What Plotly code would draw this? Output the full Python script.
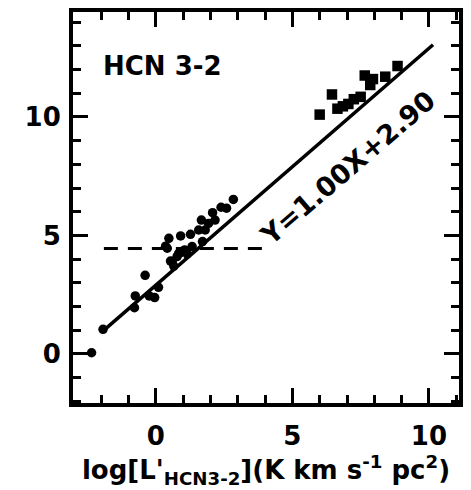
import plotly.graph_objects as go
import numpy as np

# Galactic dense cores (dots)
dots_x = [-2.35, -1.93, -0.78, -0.75, -0.39, -0.24, -0.04, 0.10, 0.36, 0.42, 0.48, 0.54, 0.60,
          0.66, 0.78, 0.84, 0.87, 0.91, 0.96, 1.06, 1.09, 1.15, 1.27, 1.33, 1.57, 1.67, 1.71,
          1.81, 1.93, 2.08, 2.17, 2.39, 2.59, 2.84]
dots_y = [0.05, 1.04, 1.95, 2.45, 3.32, 2.45, 2.38, 2.81, 4.55, 4.46, 4.88, 3.92, 3.90,
          3.71, 4.11, 4.25, 4.25, 4.98, 4.32, 4.39, 4.32, 4.22, 5.05, 4.53, 5.23, 5.65, 4.74,
          5.23, 5.51, 5.96, 5.65, 6.19, 6.15, 6.52]

# Galaxies (squares)
sq_x = [6.00, 6.45, 6.65, 6.85, 7.05, 7.25, 7.50, 7.65, 7.85, 7.95, 8.40, 8.85]
sq_y = [10.10, 10.95, 10.35, 10.45, 10.55, 10.75, 10.85, 11.75, 11.35, 11.60, 11.70, 12.15]

# Fit Y = a X + b
fit_slope = 1.00
fit_intercept = 2.90
fit_x = [-2.0, 10.15]
fit_y = [fit_slope * v + fit_intercept for v in fit_x]

# Dashed threshold line
thresh_x = [-1.9, 4.2]
thresh_y = [4.45, 4.45]

X_RANGE = [-3.03, 11.1]
Y_RANGE = [-2.07, 14.43]
FONT = "DejaVu Sans"

fig = go.Figure()
fig.add_trace(go.Scatter(x=fit_x, y=fit_y, mode="lines",
                         line=dict(color="black", width=3.5), showlegend=False))
fig.add_trace(go.Scatter(x=thresh_x, y=thresh_y, mode="lines",
                         line=dict(color="black", width=3, dash="14px,10px"), showlegend=False))
fig.add_trace(go.Scatter(x=dots_x, y=dots_y, mode="markers",
                         marker=dict(symbol="circle", size=9.5, color="black"), showlegend=False))
fig.add_trace(go.Scatter(x=sq_x, y=sq_y, mode="markers",
                         marker=dict(symbol="square", size=10.5, color="black"), showlegend=False))

ang = -np.degrees(np.arctan((23.7 / 27.6) * fit_slope))
fig.add_annotation(x=7.05, y=7.85, xref="x", yref="y",
                   text="<b>Y=%.2fX+%.2f</b>" % (fit_slope, fit_intercept),
                   textangle=ang, showarrow=False,
                   font=dict(family=FONT, size=27, color="black"))
fig.add_annotation(x=0.073, y=0.862, xref="paper", yref="paper", xanchor="left", yanchor="middle",
                   text="<b>HCN 3-2</b>", showarrow=False,
                   font=dict(family=FONT, size=26, color="black"))

fig.update_xaxes(range=X_RANGE, dtick=5, tick0=0,
                 ticks="inside", ticklen=15, tickwidth=3, tickcolor="black",
                 showline=True, linecolor="black", linewidth=4, mirror="ticks",
                 showgrid=False, zeroline=False, ticklabelstandoff=7,
                 tickfont=dict(family=FONT, size=26, color="black"),
                 tickprefix="<b>", ticksuffix="</b>",
                 minor=dict(ticks="inside", ticklen=8, tickwidth=3, tickcolor="black", dtick=1),
                 title=dict(text="<b>log[L'<sub>HCN3-2</sub>](K km s<sup>-1</sup> pc<sup>2</sup>)</b>",
                            font=dict(family=FONT, size=26, color="black"), standoff=6))
fig.update_yaxes(range=Y_RANGE, dtick=5, tick0=0,
                 ticks="inside", ticklen=15, tickwidth=3, tickcolor="black",
                 showline=True, linecolor="black", linewidth=4, mirror="ticks",
                 showgrid=False, zeroline=False, ticklabelstandoff=3,
                 tickfont=dict(family=FONT, size=26, color="black"),
                 tickprefix="<b>", ticksuffix="</b>",
                 minor=dict(ticks="inside", ticklen=8, tickwidth=3, tickcolor="black", dtick=1))

fig.update_layout(width=471, height=490, margin=dict(l=73, r=8, t=12, b=87),
                  plot_bgcolor="white", paper_bgcolor="white",
                  font=dict(family=FONT, color="black"))
fig.write_html("out.html")
